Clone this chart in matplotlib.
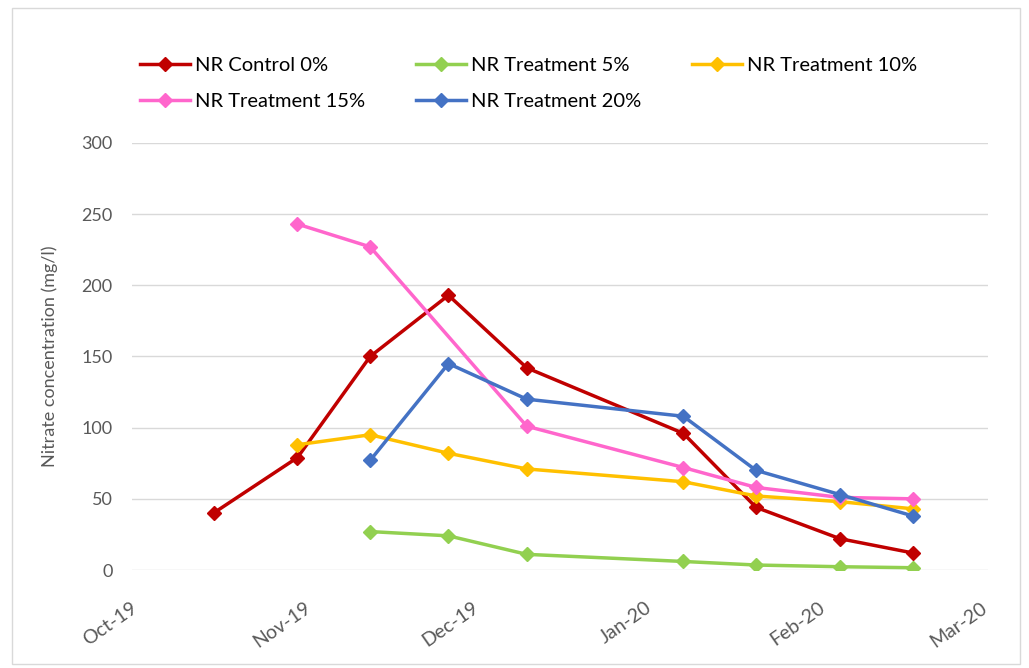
import matplotlib
matplotlib.use("Agg")
import matplotlib.pyplot as plt
import matplotlib.dates as mdates
from matplotlib.patches import Rectangle
import numpy as np
from datetime import datetime, timedelta

plt.rcParams['font.family'] = ['Lato', 'DejaVu Sans']

dates = ["2019-10-15", "2019-10-30", "2019-11-12", "2019-11-26", "2019-12-10",
         "2020-01-07", "2020-01-20", "2020-02-04", "2020-02-17"]
nan = np.nan
control_0 = [40, 79, 150, 193, 142, 96, 44, 22, 12]
treat_5 = [nan, nan, 27, 24, 11, 6, 3.5, 2.3, 1.6]
treat_10 = [nan, 88, 95, 82, 71, 62, 52, 48, 43]
treat_15 = [nan, 243, 227, nan, 101, 72, 58, 51, 50]
treat_20 = [nan, nan, 77, 145, 120, 108, 70, 53, 38]

labels = ["NR Control 0%", "NR Treatment 5%", "NR Treatment 10%",
          "NR Treatment 15%", "NR Treatment 20%"]
colors = ["#C00000", "#92D050", "#FFC000", "#FF66CC", "#4472C4"]
series = [control_0, treat_5, treat_10, treat_15, treat_20]

x = [datetime.strptime(d, "%Y-%m-%d") for d in dates]

fig = plt.figure(figsize=(10.29, 6.68), dpi=100)
fig.patches.append(Rectangle((0.0117, 0.006), 0.98, 0.982, transform=fig.transFigure,
                             fill=False, edgecolor="#d9d9d9", linewidth=1))
ax = fig.add_axes([0.1283, 0.1467, 0.832, 0.6393])

handles = []
for vals, lab, col in zip(series, labels, colors):
    xs = [xi for xi, v in zip(x, vals) if not np.isnan(v)]
    vs = [v for v in vals if not np.isnan(v)]
    h, = ax.plot(xs, vs, color=col, linewidth=2.5, marker='D', markersize=7,
                 label=lab, zorder=3)
    handles.append(h)

ax.set_ylim(0, 300)
ax.set_yticks(np.arange(0, 301, 50))
ax.set_xlim(datetime(2019, 10, 1) - timedelta(hours=14), datetime(2020, 3, 1) + timedelta(hours=12))
ax.xaxis.set_major_locator(mdates.MonthLocator())
ax.xaxis.set_major_formatter(mdates.DateFormatter("%b-%y"))
for s in ax.spines.values():
    s.set_visible(False)
ax.grid(axis='y', color="#d9d9d9", linewidth=1)
ax.set_axisbelow(True)
ax.tick_params(axis='both', length=0, colors="#595959")
ax.tick_params(axis='y', pad=14, labelsize=13)
ax.tick_params(axis='x', pad=26, labelsize=14)
for t in ax.get_xticklabels():
    t.set_rotation(35)
    t.set_ha('right')
    t.set_va('center')
    t.set_rotation_mode('anchor')
ax.set_ylabel("Nitrate concentration (mg/l)", color="#595959", fontsize=13)
ax.yaxis.set_label_coords(-0.0864, 0.5)

order = [0, 3, 1, 4, 2]
leg = fig.legend([handles[i] for i in order], [labels[i] for i in order],
                 ncol=3, loc='upper left', bbox_to_anchor=(0.136, 0.915),
                 frameon=False, fontsize=14.5, handlelength=2.5, handletextpad=0.25,
                 columnspacing=2.5, labelspacing=0.95, borderpad=0, borderaxespad=0)

fig.savefig("out.png", dpi=100)
